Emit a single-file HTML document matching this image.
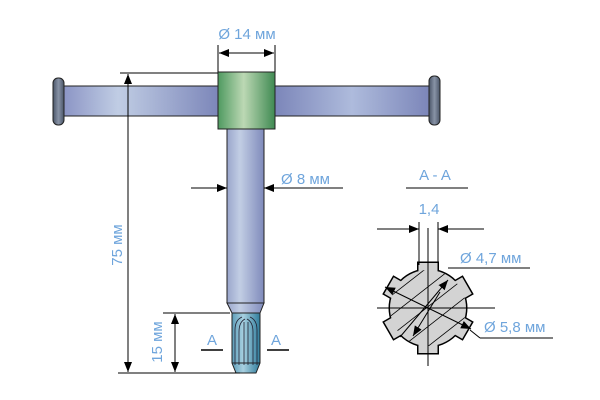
<!DOCTYPE html>
<html><head><meta charset="utf-8"><style>html,body{margin:0;padding:0;background:#fff}svg{display:block}text{font-family:"Liberation Sans",sans-serif;fill:#6fa5dc;font-size:15px}</style></head><body>
<svg width="600" height="400" viewBox="0 0 600 400" xmlns="http://www.w3.org/2000/svg">
<defs>
<linearGradient id="hb" x1="0" x2="1" y1="0" y2="0">
<stop offset="0" stop-color="#8a93c4"/><stop offset="0.35" stop-color="#c0cde4"/><stop offset="1" stop-color="#7a84b8"/></linearGradient>
<linearGradient id="hb2" x1="0" x2="1"><stop offset="0" stop-color="#7a84b8"/><stop offset="0.5" stop-color="#aebbdc"/><stop offset="1" stop-color="#7a84b8"/></linearGradient>
<linearGradient id="gr" x1="0" x2="1"><stop offset="0" stop-color="#4f9a60"/><stop offset="0.45" stop-color="#bcd8b4"/><stop offset="1" stop-color="#3f8a52"/></linearGradient>
<linearGradient id="sh" x1="0" x2="1"><stop offset="0" stop-color="#9aa6cc"/><stop offset="0.35" stop-color="#c2cee4"/><stop offset="1" stop-color="#7f8abb"/></linearGradient>
<linearGradient id="tp" x1="0" x2="1"><stop offset="0" stop-color="#5c9cb8"/><stop offset="0.4" stop-color="#a8d0e0"/><stop offset="1" stop-color="#2f7c9c"/></linearGradient>
<linearGradient id="cap" x1="0" x2="1"><stop offset="0" stop-color="#4a5568"/><stop offset="0.5" stop-color="#8893a6"/><stop offset="1" stop-color="#4a5568"/></linearGradient>
<marker id="ar" viewBox="0 0 10 10" refX="10" refY="5" markerWidth="10" markerHeight="10" markerUnits="userSpaceOnUse" orient="auto"><path d="M0,1 L10,5 L0,9z" fill="#000"/></marker>
<clipPath id="gc">
<circle cx="428" cy="308" r="38"/>
<g id="teeth">
<rect x="418.5" y="263" width="19" height="20"/>
<rect x="418.5" y="263" width="19" height="20" transform="rotate(60 428 308)"/>
<rect x="418.5" y="263" width="19" height="20" transform="rotate(120 428 308)"/>
<rect x="418.5" y="263" width="19" height="20" transform="rotate(180 428 308)"/>
<rect x="418.5" y="263" width="19" height="20" transform="rotate(240 428 308)"/>
<rect x="418.5" y="263" width="19" height="20" transform="rotate(300 428 308)"/>
</g>
</clipPath>
</defs>
<rect x="62" y="86" width="160" height="30" fill="url(#hb)" stroke="#222" stroke-width="1"/>
<rect x="272" y="86" width="160" height="30" fill="url(#hb2)" stroke="#222" stroke-width="1"/>
<rect x="53" y="78" width="11" height="47" rx="5" fill="url(#cap)" stroke="#222"/>
<rect x="429" y="76" width="11" height="49" rx="5" fill="url(#cap)" stroke="#222"/>
<rect x="227" y="128" width="37" height="175" fill="url(#sh)" stroke="#222"/>
<path d="M227,303 L264,303 L260,313 L232,313Z" fill="url(#sh)" stroke="#222"/>
<path d="M232,313 L260,313 L260,363 L256,373 L236,373 L232,363Z" fill="url(#tp)" stroke="#222"/>
<line x1="232" y1="363" x2="260" y2="363" stroke="#222"/>
<path d="M235,365 V330 Q235,320 242,317 M239,365 V332 Q239,322 245,319 M257,365 V330 Q257,320 250,317 M253,365 V332 Q253,322 247,319 M244,365 V322 M248,365 V322" fill="none" stroke="#223" stroke-width="0.8"/>
<rect x="218" y="72" width="57" height="57" fill="url(#gr)" stroke="#222"/>
<g stroke="#000" stroke-width="1" fill="none">
<line x1="120" y1="73" x2="218" y2="73"/>
<line x1="118" y1="373" x2="240" y2="373"/>
<line x1="128" y1="305" x2="128" y2="74" marker-end="url(#ar)"/>
<line x1="128" y1="140" x2="128" y2="372" marker-end="url(#ar)"/>
<line x1="163" y1="313" x2="230" y2="313"/>
<line x1="175" y1="340" x2="175" y2="314" marker-end="url(#ar)"/>
<line x1="175" y1="340" x2="175" y2="372" marker-end="url(#ar)"/>
<line x1="218" y1="45" x2="218" y2="72"/>
<line x1="275" y1="45" x2="275" y2="72"/>
<line x1="246" y1="53" x2="219" y2="53" marker-end="url(#ar)"/>
<line x1="246" y1="53" x2="274" y2="53" marker-end="url(#ar)"/>
<line x1="191" y1="188" x2="227" y2="188" marker-end="url(#ar)"/>
<line x1="343" y1="188" x2="264" y2="188" marker-end="url(#ar)"/>
<line x1="201" y1="350" x2="223" y2="350" stroke-width="1.5"/>
<line x1="267" y1="350" x2="289" y2="350" stroke-width="1.5"/>
</g>
<text x="247" y="39" text-anchor="middle">Ø 14 мм</text>
<text x="281" y="184">Ø 8 мм</text>
<text transform="translate(122,245) rotate(-90)" text-anchor="middle">75 мм</text>
<text transform="translate(162,342) rotate(-90)" text-anchor="middle">15 мм</text>
<text x="207" y="345">A</text>
<text x="271" y="345">A</text>
<text x="435" y="180" text-anchor="middle">A - A</text>
<line x1="406" y1="188" x2="468" y2="188" stroke="#000"/>
<text x="429" y="214" text-anchor="middle">1,4</text>
<g stroke="#000" stroke-width="3">
<circle cx="428" cy="308" r="38"/>
<use href="#teeth"/>
</g>
<g fill="#d3d3d3"><circle cx="428" cy="308" r="38"/><use href="#teeth"/></g>
<g clip-path="url(#gc)" stroke="#000" stroke-width="0.8">
<line x1="360" y1="300" x2="450" y2="230"/>
<line x1="360" y1="320" x2="460" y2="242"/>
<line x1="360" y1="340" x2="470" y2="254"/>
<line x1="360" y1="360" x2="480" y2="266"/>
<line x1="370" y1="372" x2="490" y2="278"/>
<line x1="385" y1="380" x2="500" y2="290"/>
<line x1="400" y1="388" x2="510" y2="302"/>
<line x1="415" y1="395" x2="520" y2="314"/>
</g>
<g stroke="#000" stroke-width="1" fill="none">
<line x1="377" y1="229" x2="419" y2="229" marker-end="url(#ar)"/>
<line x1="484" y1="229" x2="438" y2="229" marker-end="url(#ar)"/>
<line x1="419" y1="222" x2="419" y2="265"/>
<line x1="438" y1="222" x2="438" y2="265"/>
<line x1="428" y1="228" x2="428" y2="366"/>
<line x1="377" y1="308" x2="495" y2="308"/>
<line x1="400" y1="337" x2="448" y2="280" marker-end="url(#ar)"/>
<line x1="440" y1="292" x2="413" y2="336" marker-end="url(#ar)"/>
<line x1="428" y1="308" x2="385" y2="287" marker-end="url(#ar)"/>
<line x1="428" y1="308" x2="471" y2="329" marker-end="url(#ar)"/>
<line x1="448" y1="268" x2="530" y2="268"/>
<line x1="470" y1="330" x2="480" y2="338"/>
<line x1="480" y1="338" x2="553" y2="338"/>
</g>
<text x="460" y="263">Ø 4,7 мм</text>
<text x="484" y="332">Ø 5,8 мм</text>
</svg>
</body></html>
